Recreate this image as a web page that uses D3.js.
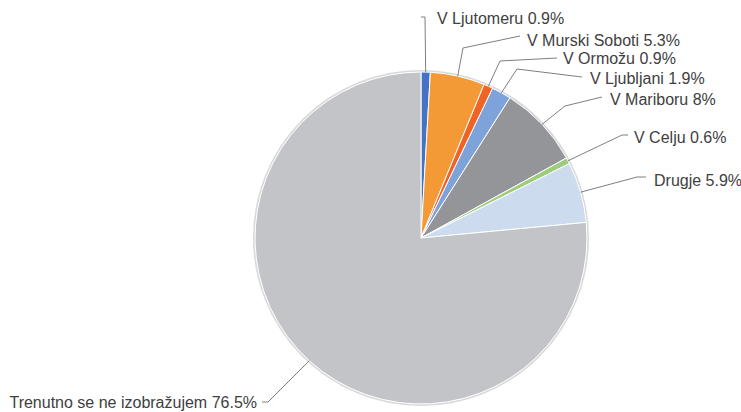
<!DOCTYPE html>
<html>
<head>
<meta charset="utf-8">
<script src="https://cdn.jsdelivr.net/npm/d3@7"></script>
<style>
  html, body { margin: 0; padding: 0; background: #ffffff; }
  svg { display: block; }
  text { font-family: "Liberation Sans", Arial, sans-serif; font-size: 16px; fill: #404040; }
</style>
</head>
<body>
<svg id="chart" width="741" height="412"></svg>
<script>
// ---- data ----
const categories = ["V Ljutomeru", "V Murski Soboti", "V Ormožu", "V Ljubljani", "V Mariboru", "V Celju", "Drugje", "Trenutno se ne izobražujem"];
const values = [0.9, 5.3, 0.9, 1.9, 8, 0.6, 5.9, 76.5];
const valueLabels = ["0.9%", "5.3%", "0.9%", "1.9%", "8%", "0.6%", "5.9%", "76.5%"];

// ---- styles ----
const colors = ["#4472c4", "#f39a36", "#ef6325", "#7ea2da", "#949599", "#9ccc7c", "#ccdcee", "#c3c4c8"];

// ---- label layout (elbow point, text anchor point, text anchor) ----
const labelLayout = [
  { elbow: [425, 17], end: [421, 17], text: [437, 18], anchor: "start" },
  { elbow: [463, 48], end: [520, 36], text: [527, 40], anchor: "start" },
  { elbow: [500, 61], end: [557, 58], text: [563, 58], anchor: "start" },
  { elbow: [517, 69], end: [582, 77], text: [590, 78], anchor: "start" },
  { elbow: [565, 106], end: [602, 97], text: [610, 99], anchor: "start" },
  { elbow: [622, 135], end: [628, 135], text: [634, 137], anchor: "start" },
  { elbow: [637, 177], end: [646, 177], text: [654, 180], anchor: "start" },
  { elbow: [268, 402], end: [262, 402], text: [257, 402], anchor: "end" }
];

const cx = 421, cy = 238, R = 166;
const svg = d3.select("#chart");
const g = svg.append("g").attr("transform", `translate(${cx},${cy})`);

const data = categories.map((c, i) => ({ name: c, value: values[i], label: valueLabels[i], i }));

const pie = d3.pie().sort(null).value(d => d.value);
const arcs = pie(data);
const arc = d3.arc().innerRadius(0).outerRadius(R);
const edgeArc = d3.arc().innerRadius(R).outerRadius(R);

// subtle outer rim
g.append("circle").attr("r", R + 1).attr("fill", "none").attr("stroke", "#d9d9db").attr("stroke-width", 2);

g.selectAll("path.slice")
  .data(arcs)
  .join("path")
  .attr("class", "slice")
  .attr("d", arc)
  .attr("fill", d => colors[d.data.i])
  .attr("stroke", "#ffffff")
  .attr("stroke-width", 1)
  .attr("stroke-linejoin", "round");

// leader lines
const lines = svg.append("g");
arcs.forEach(a => {
  const L = labelLayout[a.data.i];
  const [ex, ey] = edgeArc.centroid(a);
  const pts = [[cx + ex, cy + ey], L.elbow, L.end];
  lines.append("path")
    .attr("d", d3.line()(pts))
    .attr("fill", "none")
    .attr("stroke", "#7f7f7f")
    .attr("stroke-width", 1);
});

// labels
svg.append("g").selectAll("text")
  .data(arcs)
  .join("text")
  .attr("x", d => labelLayout[d.data.i].text[0])
  .attr("y", d => labelLayout[d.data.i].text[1])
  .attr("dy", "0.36em")
  .attr("text-anchor", d => labelLayout[d.data.i].anchor)
  .text(d => `${d.data.name} ${d.data.label}`);
</script>
</body>
</html>
